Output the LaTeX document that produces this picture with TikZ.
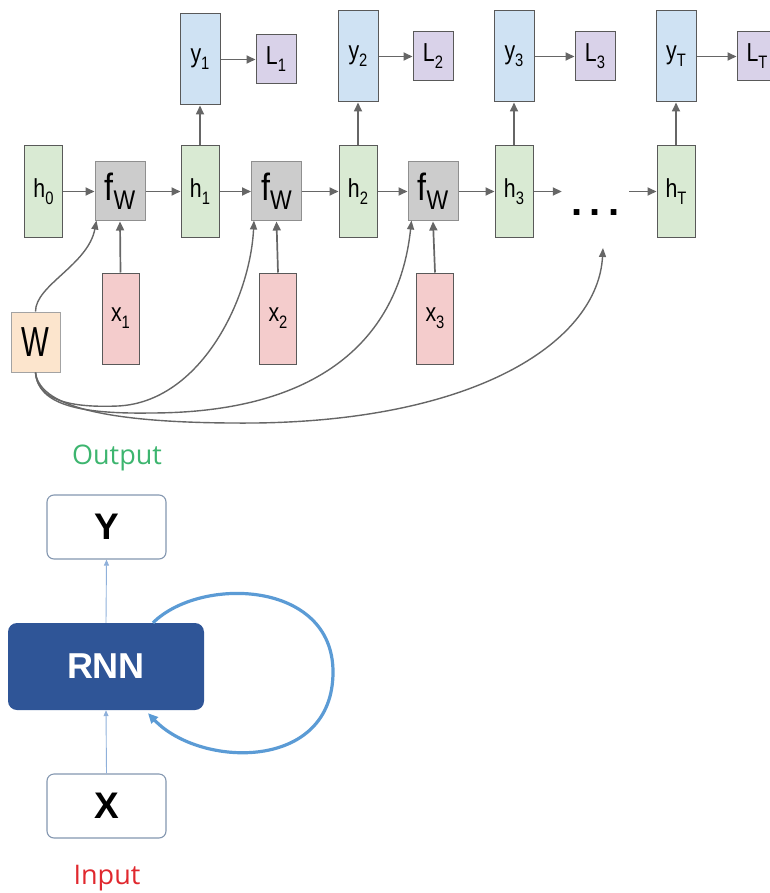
\documentclass[tikz,border=0pt]{standalone}
\usepackage{fontspec}
\setmainfont{Liberation Sans}
\newfontfamily\capfont{Open Sans}
\usetikzlibrary{arrows.meta}

\definecolor{hfill}{HTML}{D9EAD3}
\definecolor{yfill}{HTML}{CFE2F3}
\definecolor{lfill}{HTML}{D9D2E9}
\definecolor{ffill}{HTML}{CCCCCC}
\definecolor{xfill}{HTML}{F4CCCC}
\definecolor{wfill}{HTML}{FCE5CD}
\definecolor{edge}{HTML}{595959}
\definecolor{arr}{HTML}{666666}
\definecolor{rnnblue}{HTML}{2F5597}
\definecolor{loopblue}{HTML}{5B9BD5}
\definecolor{thinblue}{HTML}{8FB0DA}
\definecolor{boxline}{HTML}{8497B0}
\definecolor{outgreen}{HTML}{3DB56F}
\definecolor{inred}{HTML}{E0282E}

% label helpers: narrow main letter with a lowered subscript
\newcommand\lab[2]{\scalebox{0.82}[1]{{\fontsize{26}{28}\selectfont #1}\raisebox{-7pt}{\fontsize{18}{18}\selectfont #2}}}
\newcommand\fw{\scalebox{0.85}[1]{{\fontsize{38}{40}\selectfont f}\raisebox{-9pt}{\fontsize{27}{27}\selectfont W}}}

\tikzset{
  cell/.style={draw=edge, line width=1pt, inner sep=0pt, text=black},
  hbox/.style={cell, fill=hfill, minimum width=38pt, minimum height=91pt},
  ybox/.style={cell, fill=yfill, minimum width=40pt, minimum height=91pt},
  lbox/.style={cell, fill=lfill, minimum width=40pt, minimum height=49pt},
  fbox/.style={cell, draw=ffill!70!black, fill=ffill, minimum width=50pt, minimum height=59pt},
  xbox/.style={cell, fill=xfill, minimum width=37pt, minimum height=91pt},
  wbox/.style={cell, draw=ffill!80!black, fill=wfill, minimum width=49pt, minimum height=60pt},
  flow/.style={draw=arr, line width=1.7pt, -{Triangle[length=9pt,width=8pt]}},
  share/.style={draw=arr, line width=1.4pt, -{Triangle[length=9pt,width=7pt]}},
  rbox/.style={draw=boxline, line width=1.1pt, rounded corners=7pt, fill=white,
               minimum width=119pt, minimum height=64pt, font=\fontsize{37}{40}\selectfont\bfseries},
  thin/.style={draw=thinblue, line width=0.9pt, -{Triangle[length=6pt,width=5pt]}},
}

\begin{document}
\begin{tikzpicture}[x=1pt, y=-1pt]
\useasboundingbox (0,0) rectangle (769,893);

% ---------- unrolled network ----------
\node[hbox] (h0) at (43.5,191.5) {\lab{h}{0}};
\node[fbox] (f1) at (120,191.5) {\fw};
\node[hbox] (h1) at (200,191.5) {\lab{h}{1}};
\node[fbox] (f2) at (276.5,191.5) {\fw};
\node[hbox] (h2) at (358,191.5) {\lab{h}{2}};
\node[fbox] (f3) at (433,191.5) {\fw};
\node[hbox] (h3) at (514,191.5) {\lab{h}{3}};
\node[inner sep=0pt, minimum width=67pt, minimum height=0pt] (dots) at (595.5,191.5)
  {\smash{\raisebox{-24pt}{\fontsize{40}{40}\selectfont\bfseries .\hspace{7pt}.\hspace{7pt}.}}};
\node[hbox] (hT) at (676,191.5) {\lab{h}{T}};

\node[ybox] (y1) at (200,59.5) {\lab{y}{1}};
\node[ybox] (y2) at (358,56.5) {\lab{y}{2}};
\node[ybox] (y3) at (514,56.5) {\lab{y}{3}};
\node[ybox] (yT) at (676,56.5) {\lab{y}{T}};

\node[lbox] (L1) at (276,59.5) {\lab{L}{1}};
\node[lbox] (L2) at (433,56.5) {\lab{L}{2}};
\node[lbox] (L3) at (595,56.5) {\lab{L}{3}};
\node[lbox] (LT) at (757,56.5) {\lab{L}{T}};

\node[xbox] (x1) at (120.5,318.5) {\lab{x}{1}};
\node[xbox] (x2) at (278,318.5) {\lab{x}{2}};
\node[xbox] (x3) at (435,318.5) {\lab{x}{3}};

\node[wbox] (W) at (35.5,342) {\scalebox{0.7}[1]{\fontsize{42}{44}\selectfont W}};

% recurrence along the chain
\draw[flow] (h0) -- (f1);
\draw[flow] (f1) -- (h1);
\draw[flow] (h1) -- (f2);
\draw[flow] (f2) -- (h2);
\draw[flow] (h2) -- (f3);
\draw[flow] (f3) -- (h3);
\draw[flow] (h3.east) -- (dots.west);
\draw[flow] (dots.east) -- (hT.west);

% outputs and losses
\foreach \i in {1,2,3,T} {
  \draw[flow] (h\i) -- (y\i);
  \draw[flow] (y\i) -- (L\i);
}

% inputs
\draw[flow] (x1.north) -- (f1.south);
\draw[flow] (x2.north) -- (f2.south);
\draw[flow] (x3.north) -- (f3.south);

% shared weights
\coordinate (wend) at (603,248);
\draw[share] (W.north) .. controls (35.5,285) and (88,265) .. ([xshift=2pt,yshift=1pt]f1.south west);
\draw[share] (W.south) .. controls (37,400) and (70,408) .. (118,406)
  .. controls (200,402) and (250,300) .. ([xshift=3pt,yshift=1pt]f2.south west);
\draw[share] (W.south) .. controls (38,405) and (80,414) .. (150,413)
  .. controls (330,413) and (400,330) .. ([xshift=4pt,yshift=1pt]f3.south west);
\draw[share] (W.south) .. controls (40,410) and (120,424) .. (256,423)
  .. controls (480,420) and (598,340) .. (wend);

% ---------- folded network ----------
\node[font=\capfont\fontsize{27}{30}\selectfont, text=outgreen] (out) at (117,458) {Output};
\node[rbox] (Y) at (106.5,527) {Y};
\node[draw=none, fill=rnnblue, rounded corners=9pt, minimum width=196pt, minimum height=87pt,
      text=white, font=\fontsize{36}{38}\selectfont\bfseries] (rnn) at (106,666.5) {RNN};
\node[rbox] (X) at (106.5,806) {X};
\node[font=\capfont\fontsize{27}{30}\selectfont, text=inred] (in) at (107,878) {Input};

\draw[thin] (rnn.north) -- (Y.south);
\draw[thin] (X.north) -- (rnn.south);

\draw[draw=loopblue, line width=3.2pt, -{Triangle[length=10pt,width=9pt]}]
  ([xshift=47pt]rnn.north) .. controls (200,576) and (333,580) .. (333,672)
  .. controls (333,772) and (200,768) .. ([xshift=42pt,yshift=-3pt]rnn.south);
\end{tikzpicture}
\end{document}
